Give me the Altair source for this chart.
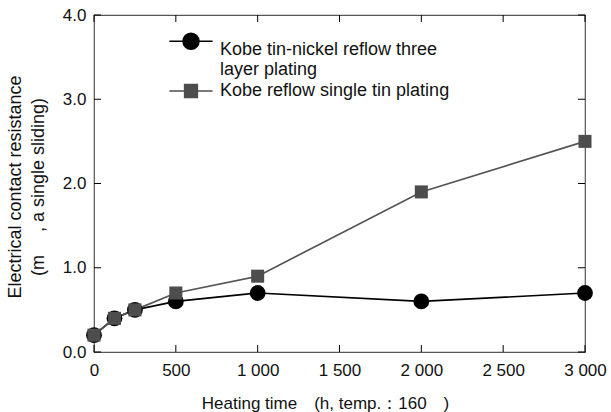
import altair as alt
import pandas as pd

# ---- data ----
hours = [0, 125, 250, 500, 1000, 2000, 3000]
tin_nickel_three = [0.2, 0.4, 0.5, 0.6, 0.7, 0.6, 0.7]
single_tin = [0.2, 0.4, 0.5, 0.7, 0.9, 1.9, 2.5]
series_names = ["Kobe tin-nickel reflow three layer plating", "Kobe reflow single tin plating"]
series_colors = ["#000000", "#4d4d4d"]
x_ticks = [0, 500, 1000, 1500, 2000, 2500, 3000]
y_ticks = [0.0, 1.0, 2.0, 3.0, 4.0]
x_title = "Heating time\u2003(h, temp.\uff1a160\u2003)"
y_title = ["Electrical contact resistance", "(m\u2003\u00a0, a single sliding)"]

df = pd.DataFrame({
    "time": hours + hours,
    "value": tin_nickel_three + single_tin,
    "series": [series_names[0]] * len(hours) + [series_names[1]] * len(hours),
})
xt = pd.DataFrame({"t": x_ticks})
yt = pd.DataFrame({"t": y_ticks})

W, H = 491, 337
FONT = "Liberation Sans"

xs = alt.Scale(domain=[0, 3000], nice=False, zero=False)
ys = alt.Scale(domain=[0, 4], nice=False, zero=False)

x_axis = alt.Axis(
    values=x_ticks, labelExpr="replace(format(datum.value, ','), ',', ' ')",
    grid=False, ticks=False, tickSize=0, domain=False, labelFontSize=17, labelFont=FONT,
    labelColor="#111", labelPadding=10, labelFlush=False,
    title=x_title, titleFont=FONT, titleFontSize=17, titleFontWeight="normal", titleColor="#111",
    titleX=231, titleY=56, titleBaseline="alphabetic", titleAnchor="middle", titleAlign="center",
)
y_axis = alt.Axis(
    values=y_ticks, format=".1f", grid=False, ticks=False, tickSize=0, domain=False,
    labelFontSize=17, labelFont=FONT, labelColor="#111", labelPadding=8, labelFlush=False,
    title=y_title, titleFont=FONT, titleFontSize=18, titleFontWeight="normal", titleColor="#111",
    titleAngle=-90, titleX=-88, titleY=H / 2 + 3, titleBaseline="top", titleAlign="center",
    titleLineHeight=23,
)

line_color_scale = alt.Scale(domain=series_names, range=["#000000", "#555555"])
color_scale = alt.Scale(domain=series_names, range=series_colors)

lines = alt.Chart(df).mark_line(strokeWidth=1.7).encode(
    x=alt.X("time:Q", scale=xs, axis=x_axis),
    y=alt.Y("value:Q", scale=ys, axis=y_axis),
    color=alt.Color("series:N", scale=line_color_scale, legend=None),
)

circles = alt.Chart(df).transform_filter(
    alt.datum.series == series_names[0]
).mark_circle(size=250, opacity=1, color=series_colors[0]).encode(
    x="time:Q", y="value:Q"
)
squares = alt.Chart(df).transform_filter(
    alt.datum.series == series_names[1]
).mark_square(size=170, opacity=1, color=series_colors[1]).encode(
    x="time:Q", y="value:Q"
)

path_circle = "M-2.7,-1.1H2.7M-1,-1.1A1,1,0,1,1,1,-1.1A1,1,0,1,1,-1,-1.1Z"
path_square = "M-2.7,0H2.7M-0.8,-0.8H0.8V0.8H-0.8Z"
leg = alt.Legend(
    title=None, orient="none", legendX=88, legendY=26, padding=0,
    labelFont=FONT, labelFontSize=18, labelColor="#111", labelLimit=500,
    labelOffset=20, symbolSize=256, symbolStrokeWidth=1.5, symbolOpacity=1,
    rowPadding=2, labelBaseline="middle",
    labelExpr=("datum.label == '" + series_names[0] + "' ? "
               "['Kobe tin-nickel reflow three', 'layer plating'] : datum.label"),
)
legend_layer = alt.Chart(df).transform_filter("datum.value < -100").mark_point(
    filled=True, opacity=1, strokeWidth=1.5
).encode(
    x="time:Q", y="value:Q",
    fill=alt.Fill("series:N", scale=color_scale, legend=leg),
    stroke=alt.Stroke("series:N", scale=color_scale, legend=leg),
    shape=alt.Shape("series:N", scale=alt.Scale(domain=series_names, range=[path_circle, path_square]), legend=leg),
)

TL = 7
tick_bottom = alt.Chart(xt).mark_rule(color="#000", strokeWidth=1).encode(
    x=alt.X("t:Q", scale=xs), y=alt.value(H), y2=alt.value(H - TL))
tick_top = alt.Chart(xt).mark_rule(color="#000", strokeWidth=1).encode(
    x=alt.X("t:Q", scale=xs), y=alt.value(0), y2=alt.value(TL))
tick_left = alt.Chart(yt).mark_rule(color="#000", strokeWidth=1).encode(
    y=alt.Y("t:Q", scale=ys), x=alt.value(0), x2=alt.value(TL))
tick_right = alt.Chart(yt).mark_rule(color="#000", strokeWidth=1).encode(
    y=alt.Y("t:Q", scale=ys), x=alt.value(W), x2=alt.value(W - TL))

chart = alt.layer(
    tick_bottom, tick_top, tick_left, tick_right, lines, circles, squares, legend_layer
).resolve_scale(color="independent").properties(
    width=W, height=H,
    autosize=alt.AutoSizeParams(type="none"),
    padding={"left": 94, "top": 15, "right": 26, "bottom": 60},
    background="white",
).configure_view(stroke="#555555", strokeWidth=1.2)

chart.save("out.html", embed_options={"renderer": "svg", "actions": False})
